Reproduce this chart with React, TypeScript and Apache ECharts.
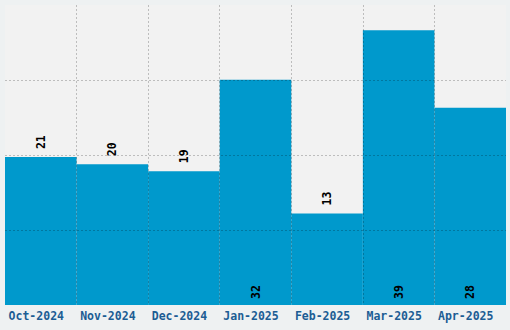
import React, { useEffect, useRef } from "react";
import * as echarts from "echarts";

const categories = ["Oct-2024", "Nov-2024", "Dec-2024", "Jan-2025", "Feb-2025", "Mar-2025", "Apr-2025"];
const values = [21, 20, 19, 32, 13, 39, 28];
const labelInside = [false, false, false, true, false, true, true];

export default function App() {
  const ref = useRef<HTMLDivElement>(null);
  useEffect(() => {
    document.body.style.margin = "0";
    const chart = echarts.init(ref.current!, null, { renderer: "svg" });
    const font = "'DejaVu Sans Mono', monospace";
    chart.setOption({
      animation: false,
      backgroundColor: "#eef1f2",
      grid: {
        left: 5,
        right: 4,
        top: 5,
        bottom: 25,
        show: true,
        backgroundColor: "#f2f2f2",
        borderWidth: 0,
      },
      xAxis: {
        type: "category",
        data: categories,
        z: 5,
        axisLine: { show: false },
        axisTick: { show: false },
        axisLabel: {
          color: "#1c5d94",
          fontFamily: font,
          fontWeight: "bold",
          fontSize: 11.5,
          margin: 5,
          interval: 0,
          padding: [0, 9, 0, 0],
        },
        splitLine: {
          show: true,
          showMinLine: false,
          showMaxLine: false,
          lineStyle: { color: "rgba(0,0,0,0.22)", type: [2, 2], width: 1 },
        },
      },
      yAxis: {
        type: "value",
        min: 0,
        max: 42.6,
        interval: 10.65,
        z: 5,
        axisLine: { show: false },
        axisTick: { show: false },
        axisLabel: { show: false },
        splitLine: {
          show: true,
          showMinLine: false,
          showMaxLine: false,
          lineStyle: { color: "rgba(0,0,0,0.22)", type: [2, 2], width: 1 },
        },
      },
      series: [
        {
          type: "bar",
          barCategoryGap: 0,
          itemStyle: { color: "#0099cc" },
          data: values.map((v, i) => ({
            value: v,
            label: labelInside[i]
              ? { position: "insideBottom", distance: 6 }
              : { position: "top", distance: 8 },
          })),
          label: {
            show: true,
            rotate: 90,
            align: "left",
            verticalAlign: "middle",
            color: "#000",
            fontFamily: font,
            fontWeight: "bold",
            fontSize: 11.5,
          },
        },
      ],
    });
    return () => chart.dispose();
  }, []);
  return <div ref={ref} style={{ width: 510, height: 330 }} />;
}
